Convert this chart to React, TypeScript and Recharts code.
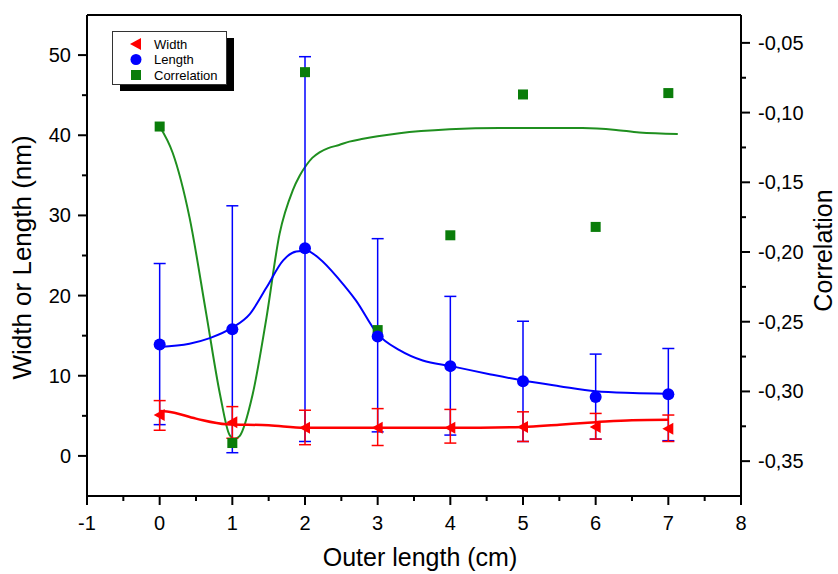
import React from 'react';
import { ComposedChart, Line, Scatter, XAxis, YAxis, ErrorBar, Legend, Label, ReferenceLine } from 'recharts';

// ---- data ----
const xPositions = [0, 1, 2, 3, 4, 5, 6, 7];

const widthValues = [5.1, 4.2, 3.5, 3.5, 3.5, 3.6, 3.6, 3.4];
const widthHigh = [6.9, 6.15, 5.7, 5.9, 5.8, 5.5, 5.3, 5.1];
const widthLow = [3.2, 2.2, 1.4, 1.3, 1.6, 1.8, 2.1, 1.8];

const lengthValues = [13.9, 15.8, 25.9, 14.9, 11.2, 9.3, 7.35, 7.7];
const lengthHigh = [24.0, 31.2, 49.8, 27.1, 19.9, 16.8, 12.7, 13.4];
const lengthLow = [3.9, 0.4, 1.8, 3.0, 2.6, 1.8, 2.1, 1.9];

const correlationValues = [-0.110, -0.337, -0.071, -0.256, -0.188, -0.087, -0.182, -0.086];

// fitted curves
const widthFitX = [0, 0.1, 0.5, 0.92, 1.5, 2.0, 3.0, 4.0, 5.0, 5.5, 6.0, 6.5, 7.0];
const widthFitY = [5.6, 5.55, 4.65, 3.95, 3.82, 3.5, 3.5, 3.5, 3.6, 3.9, 4.2, 4.45, 4.5];

const lengthFitX = [0, 0.41, 0.69, 1.0, 1.24, 1.47, 1.7, 1.88, 2.02, 2.2, 2.48, 2.7, 3.0, 3.3, 3.62, 4.01, 4.54, 5.0, 5.5, 6.0, 6.51, 6.97];
const lengthFitY = [13.6, 14.0, 14.7, 16.0, 17.7, 21.0, 24.4, 25.5, 25.6, 24.6, 21.9, 19.4, 15.2, 13.2, 11.9, 11.2, 10.2, 9.4, 8.7, 8.06, 7.85, 7.77];

const corrFitX = [0, 0.18, 0.41, 0.64, 0.83, 0.96, 1.03, 1.1, 1.28, 1.47, 1.65, 1.83, 1.93, 2.02, 2.1, 2.2, 2.32, 2.47, 2.61, 2.8, 3.0, 3.3, 3.99, 4.68, 5.3, 5.82, 6.28, 6.6, 7.13];
const corrFitY = [-0.110, -0.129, -0.175, -0.244, -0.302, -0.331, -0.334, -0.332, -0.302, -0.247, -0.187, -0.156, -0.145, -0.1376, -0.1325, -0.1285, -0.1255, -0.1232, -0.1208, -0.1188, -0.117, -0.1148, -0.112, -0.111, -0.111, -0.111, -0.1124, -0.1143, -0.1153];

// ticks
const xTicks = [-1, -0.5, 0, 0.5, 1, 1.5, 2, 2.5, 3, 3.5, 4, 4.5, 5, 5.5, 6, 6.5, 7, 7.5, 8];
const leftTicks = [0, 5, 10, 15, 20, 25, 30, 35, 40, 45, 50];
const rightTicks = [-0.35, -0.325, -0.3, -0.275, -0.25, -0.225, -0.2, -0.175, -0.15, -0.125, -0.1, -0.075, -0.05];

const legendItems = [
  { name: 'Width', color: '#ff0000', shape: 'triangle' },
  { name: 'Length', color: '#0000ff', shape: 'circle' },
  { name: 'Correlation', color: '#0a7d0a', shape: 'square' },
];

// ---- tables built from the arrays ----
const widthData = xPositions.map((x, i) => ({
  x,
  y: widthValues[i],
  err: [widthValues[i] - widthLow[i], widthHigh[i] - widthValues[i]],
}));
const lengthData = xPositions.map((x, i) => ({
  x,
  y: lengthValues[i],
  err: [lengthValues[i] - lengthLow[i], lengthHigh[i] - lengthValues[i]],
}));
const corrData = xPositions.map((x, i) => ({ x, y: correlationValues[i] }));
const widthFit = widthFitX.map((x, i) => ({ x, y: widthFitY[i] }));
const lengthFit = lengthFitX.map((x, i) => ({ x, y: lengthFitY[i] }));
const corrFit = corrFitX.map((x, i) => ({ x, y: corrFitY[i] }));

const FONT = "Arial, 'Liberation Sans', sans-serif";
const RED = '#ff0000';
const BLUE = '#0000ff';
const GREEN = '#0a7d0a';
const GREEN_LINE = '#1f8f1f';

const TriangleShape = (p: any) => {
  const { cx, cy } = p;
  if (cx == null || cy == null) return null;
  return <polygon points={`${cx - 6},${cy} ${cx + 5},${cy - 6} ${cx + 5},${cy + 6}`} fill={RED} />;
};
const CircleShape = (p: any) => {
  const { cx, cy } = p;
  if (cx == null || cy == null) return null;
  return <circle cx={cx} cy={cy} r={6} fill={BLUE} />;
};
const SquareShape = (p: any) => {
  const { cx, cy } = p;
  if (cx == null || cy == null) return null;
  return <rect x={cx - 5} y={cy - 5} width={10} height={10} fill={GREEN} />;
};

const LeftTick = (props: any) => {
  const { x, y, payload } = props;
  const v = payload.value;
  const major = Math.abs(v % 10) < 1e-9;
  return (
    <g>
      <line x1={x} x2={x - (major ? 9 : 5)} y1={y} y2={y} stroke="#000" strokeWidth={2} />
      {major && (
        <text x={x - 16} y={y + 7} textAnchor="end" fontSize={20} fontFamily={FONT} fill="#000">
          {v}
        </text>
      )}
    </g>
  );
};

const RightTick = (props: any) => {
  const { x, y, payload } = props;
  const v = payload.value;
  const major = Math.round(Math.abs(v) * 1000) % 50 === 0;
  return (
    <g>
      <line x1={x} x2={x + (major ? 9 : 5)} y1={y} y2={y} stroke="#000" strokeWidth={2} />
      {major && (
        <text x={x + 17} y={y + 7} textAnchor="start" fontSize={20} fontFamily={FONT} fill="#000">
          {v.toFixed(2).replace('.', ',')}
        </text>
      )}
    </g>
  );
};

const BottomTick = (props: any) => {
  const { x, y, payload } = props;
  const v = payload.value;
  const major = Number.isInteger(v);
  return (
    <g>
      <line x1={x} x2={x} y1={y} y2={y + (major ? 9 : 5)} stroke="#000" strokeWidth={2} />
      {major && (
        <text x={x} y={y + 34} textAnchor="middle" fontSize={20} fontFamily={FONT} fill="#000">
          {v}
        </text>
      )}
    </g>
  );
};

const renderLegend = () => (
  <svg width={130} height={70} style={{ display: 'block' }}>
    <rect x={8} y={7} width={114} height={53} fill="#000" />
    <rect x={0.5} y={0.5} width={114} height={53} fill="#fff" stroke="#333" strokeWidth={1} />
    {legendItems.map((item, i) => {
      const cy = 13 + i * 15.5;
      const cx = 24;
      let sym;
      if (item.shape === 'triangle') {
        sym = <polygon points={`${cx - 6},${cy} ${cx + 5},${cy - 6} ${cx + 5},${cy + 6}`} fill={item.color} />;
      } else if (item.shape === 'circle') {
        sym = <circle cx={cx} cy={cy} r={5.5} fill={item.color} />;
      } else {
        sym = <rect x={cx - 5} y={cy - 5} width={10} height={10} fill={item.color} />;
      }
      return (
        <g key={item.name}>
          {sym}
          <text x={42} y={cy + 4.5} fontSize={13} fontFamily={FONT} fill="#000">
            {item.name}
          </text>
        </g>
      );
    })}
  </svg>
);

const XTitle = (props: any) => {
  const vb = props.viewBox || { x: 87, y: 496, width: 654, height: 78 };
  return (
    <text x={vb.x + vb.width / 2 + 6} y={vb.y + 70} textAnchor="middle" fontSize={25} fontFamily={FONT} fill="#000">
      Outer length (cm)
    </text>
  );
};
const LeftTitle = (props: any) => {
  const vb = props.viewBox || { x: 0, y: 15, width: 87, height: 481 };
  const cx = vb.x + 31;
  const cy = vb.y + vb.height / 2 + 2;
  return (
    <text x={cx} y={cy} transform={`rotate(-90, ${cx}, ${cy})`} textAnchor="middle" fontSize={26} fontFamily={FONT} fill="#000">
      Width or Length (nm)
    </text>
  );
};
const RightTitle = (props: any) => {
  const vb = props.viewBox || { x: 741, y: 15, width: 97, height: 481 };
  const cx = vb.x + 91;
  const cy = vb.y + vb.height / 2 - 5;
  return (
    <text x={cx} y={cy} transform={`rotate(-90, ${cx}, ${cy})`} textAnchor="middle" fontSize={25} fontFamily={FONT} fill="#000">
      Correlation
    </text>
  );
};

export default function App() {
  return (
    <div style={{ position: 'absolute', left: 0, top: 0, width: 838, height: 574, background: '#fff' }}>
      <ComposedChart width={838} height={574} margin={{ top: 15, right: 0, bottom: 0, left: 0 }}>
        <XAxis
          xAxisId="x"
          dataKey="x"
          type="number"
          domain={[-1, 8]}
          allowDataOverflow
          ticks={xTicks}
          interval={0}
          height={78}
          tickSize={0}
          tickMargin={0}
          tickLine={false}
          tick={<BottomTick />}
          axisLine={{ stroke: '#000', strokeWidth: 2 }}
        >
          <Label content={<XTitle />} />
        </XAxis>
        <YAxis
          yAxisId="left"
          dataKey="y"
          type="number"
          orientation="left"
          domain={[-5, 55]}
          allowDataOverflow
          ticks={leftTicks}
          interval={0}
          width={87}
          tickSize={0}
          tickMargin={0}
          tickLine={false}
          tick={<LeftTick />}
          axisLine={{ stroke: '#000', strokeWidth: 2 }}
        >
          <Label content={<LeftTitle />} />
        </YAxis>
        <YAxis
          yAxisId="right"
          dataKey="y"
          type="number"
          orientation="right"
          domain={[-0.375, -0.03]}
          allowDataOverflow
          ticks={rightTicks}
          interval={0}
          width={97}
          tickSize={0}
          tickMargin={0}
          tickLine={false}
          tick={<RightTick />}
          axisLine={{ stroke: '#000', strokeWidth: 2 }}
        >
          <Label content={<RightTitle />} />
        </YAxis>
        <ReferenceLine xAxisId="x" yAxisId="left" y={55} stroke="#000" strokeWidth={2} ifOverflow="visible" />

        <Line
          xAxisId="x"
          yAxisId="right"
          data={corrFit}
          dataKey="y"
          type="monotone"
          stroke={GREEN_LINE}
          strokeWidth={2}
          dot={false}
          activeDot={false}
          isAnimationActive={false}
          legendType="none"
        />
        <Scatter
          xAxisId="x"
          yAxisId="right"
          data={corrData}
          name="Correlation"
          fill={GREEN}
          shape={<SquareShape />}
          isAnimationActive={false}
        />
        <Line
          xAxisId="x"
          yAxisId="left"
          data={lengthFit}
          dataKey="y"
          type="monotone"
          stroke={BLUE}
          strokeWidth={2}
          dot={false}
          activeDot={false}
          isAnimationActive={false}
          legendType="none"
        />
        <Scatter
          xAxisId="x"
          yAxisId="left"
          data={lengthData}
          name="Length"
          fill={BLUE}
          shape={<CircleShape />}
          isAnimationActive={false}
        >
          <ErrorBar dataKey="err" direction="y" width={6} stroke={BLUE} strokeWidth={1.5} isAnimationActive={false} />
        </Scatter>
        <Line
          xAxisId="x"
          yAxisId="left"
          data={widthFit}
          dataKey="y"
          type="monotone"
          stroke={RED}
          strokeWidth={2.5}
          dot={false}
          activeDot={false}
          isAnimationActive={false}
          legendType="none"
        />
        <Scatter
          xAxisId="x"
          yAxisId="left"
          data={widthData}
          name="Width"
          fill={RED}
          shape={<TriangleShape />}
          isAnimationActive={false}
        >
          <ErrorBar dataKey="err" direction="y" width={6} stroke={RED} strokeWidth={1.5} isAnimationActive={false} />
        </Scatter>
        <Legend
          content={renderLegend}
          layout="vertical"
          align="center"
          verticalAlign="middle"
          wrapperStyle={{ left: 112, top: 31, width: 130, height: 70 }}
        />
      </ComposedChart>
    </div>
  );
}
